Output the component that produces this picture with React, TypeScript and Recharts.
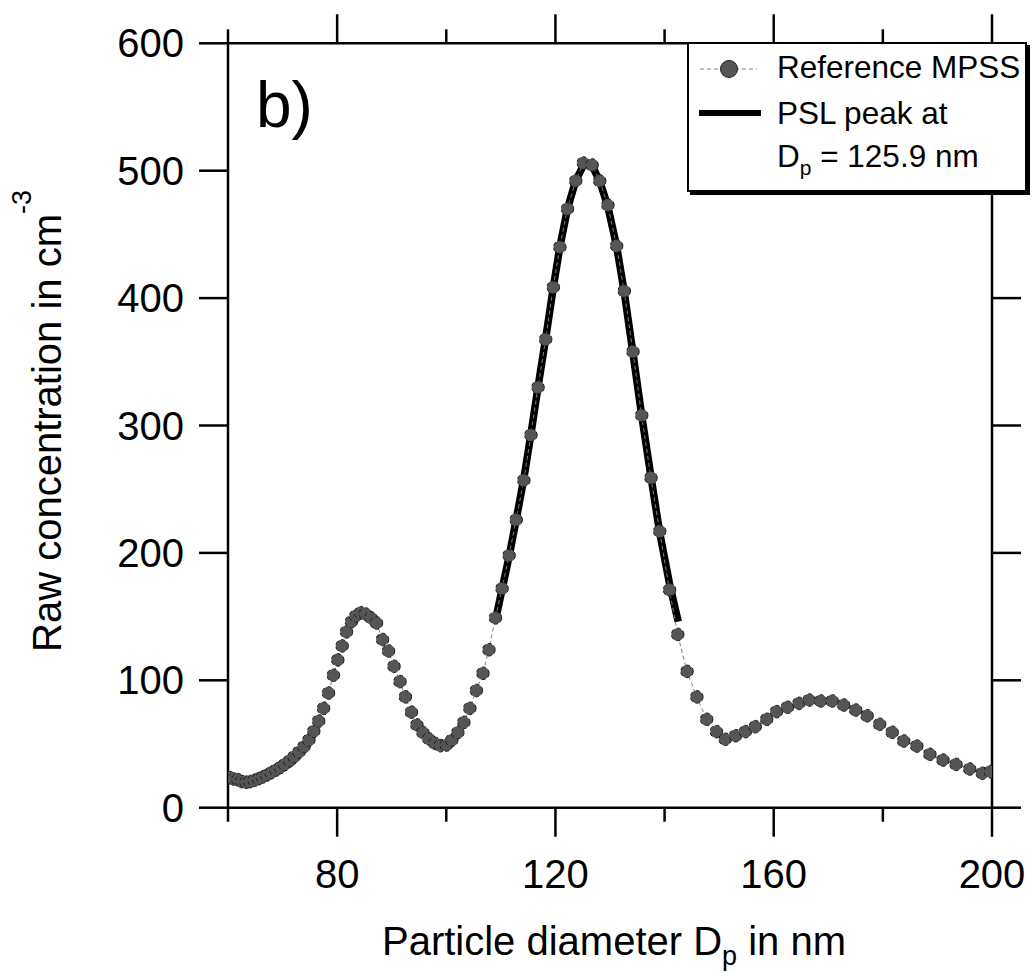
import React from 'react';
import { ComposedChart, Line, XAxis, YAxis, Legend } from 'recharts';

// Reference MPSS: particle diameter (nm) and raw concentration (cm^-3)
const diameterNm = [
  60.3, 61.0, 61.8, 62.5, 63.3, 64.0, 64.8, 65.6, 66.3, 67.1,
  67.9, 68.8, 69.6, 70.4, 71.3, 72.1, 73.0, 73.9, 74.8, 75.7,
  76.6, 77.5, 78.4, 79.3, 80.1, 80.9, 81.7, 82.6, 83.4, 84.3,
  85.2, 86.2, 87.2, 88.3, 89.4, 90.4, 91.5, 92.5, 93.6, 94.6,
  95.7, 96.8, 97.9, 98.9, 100.0, 101.0, 102.1, 103.2, 104.3, 105.5,
  106.7, 107.8, 109.0, 110.2, 111.5, 112.8, 114.2, 115.5, 116.8, 118.2,
  119.6, 120.8, 122.2, 123.7, 125.1, 126.7, 128.1, 129.6, 131.2, 132.6,
  134.2, 135.8, 137.5, 139.1, 140.9, 142.4, 144.1, 145.9, 147.7, 149.5,
  151.1, 153.0, 154.8, 156.6, 158.7, 160.5, 162.5, 164.6, 166.5, 168.6,
  170.7, 172.8, 175.0, 177.1, 179.4, 181.7, 183.8, 186.2, 188.6, 191.0,
  193.4, 195.9, 198.2, 199.7,
];
const rawConc = [
  23.5, 22.5, 22.0, 20.5, 20.0, 20.5, 21.5, 22.8, 24.1, 25.7,
  27.5, 29.6, 31.7, 34.0, 36.9, 40.0, 43.7, 47.9, 53.1, 60.0,
  68.0, 78.0, 90.0, 104.0, 116.0, 127.0, 138.0, 146.0, 150.5, 153.0,
  152.0, 149.0, 145.0, 132.0, 123.0, 111.0, 99.0, 87.0, 75.0, 65.0,
  59.0, 54.0, 50.5, 48.7, 49.2, 53.0, 59.0, 67.0, 78.0, 92.0,
  105.5, 124.0, 149.0, 172.0, 198.0, 226.0, 257.0, 292.5, 330.0, 367.6,
  408.5, 440.0, 470.0, 492.0, 506.0, 504.5, 492.0, 473.0, 441.0, 405.6,
  358.0, 308.0, 259.0, 217.0, 171.0, 136.0, 107.0, 87.0, 69.4, 59.7,
  53.7, 56.5, 59.7, 63.6, 69.4, 75.4, 78.8, 81.9, 84.5, 83.8,
  83.8, 80.6, 76.7, 72.2, 65.5, 59.2, 52.4, 48.4, 41.9, 37.4,
  34.0, 30.4, 27.0, 28.3,
];

// PSL peak fit (thick black line)
const fitDiameterNm = [
  109.0, 110.2, 111.5, 112.8, 114.2, 115.5, 116.8, 118.2, 119.6, 120.8,
  122.2, 123.7, 125.1, 125.9, 126.7, 128.1, 129.6, 131.2, 132.6, 134.2,
  135.8, 137.5, 139.1, 140.9, 142.5,
];
const fitConc = [
  147, 171, 197, 226, 258, 293, 330, 368, 408, 440,
  470, 492, 504, 506, 504, 492, 472, 441, 405, 357,
  308, 260, 216, 176, 146,
];

const xTicks = [60, 80, 100, 120, 140, 160, 180, 200];
const xLabeledTicks = [80, 120, 160, 200];
const yTicks = [0, 100, 200, 300, 400, 500, 600];

const FONT = '"Liberation Sans", Arial, Helvetica, sans-serif';
const AXIS_W = 2.5;

const mpssData = diameterNm.map((d, i) => ({ d, c: rawConc[i] }));
const fitData = fitDiameterNm.map((d, i) => ({ d, f: fitConc[i] }));

const BottomTick = (p: any) => {
  const { x, y, payload } = p;
  const v = payload.value;
  const major = xLabeledTicks.includes(v);
  return (
    <g>
      <line x1={x} x2={x} y1={y} y2={y + (major ? 29 : 14)} stroke="#000" strokeWidth={AXIS_W} />
      {major ? (
        <text x={x} y={y + 80} textAnchor="middle" fontSize={40} fontFamily={FONT} fill="#000">
          {v}
        </text>
      ) : null}
    </g>
  );
};

const TopTick = (p: any) => {
  const { x, y, payload } = p;
  const major = xLabeledTicks.includes(payload.value);
  return <line x1={x} x2={x} y1={y} y2={y - (major ? 29 : 14)} stroke="#000" strokeWidth={AXIS_W} />;
};

const LeftTick = (p: any) => {
  const { x, y, payload } = p;
  return (
    <g>
      <line x1={x - 29} x2={x} y1={y} y2={y} stroke="#000" strokeWidth={AXIS_W} />
      <text x={x - 44} y={y + 14} textAnchor="end" fontSize={40} fontFamily={FONT} fill="#000">
        {payload.value}
      </text>
    </g>
  );
};

const RightTick = (p: any) => {
  const { x, y } = p;
  return <line x1={x} x2={x + 29} y1={y} y2={y} stroke="#000" strokeWidth={AXIS_W} />;
};

const XTitle = () => (
  <text x={614} y={955} textAnchor="middle" fontSize={40} fontFamily={FONT} fill="#000">
    Particle diameter D
    <tspan fontSize={27} dy={10}>p</tspan>
    <tspan dy={-10}> in nm</tspan>
  </text>
);

const YTitle = () => (
  <text
    transform="translate(61,421) rotate(-90)"
    x={0}
    y={0}
    textAnchor="middle"
    fontSize={40}
    fontFamily={FONT}
    fill="#000"
  >
    Raw concentration in cm
    <tspan fontSize={27} dy={-30}>-3</tspan>
  </text>
);

const PanelTag = () => (
  <text x={256} y={127} fontSize={64} fontFamily={FONT} fill="#000">
    b)
  </text>
);

const renderLegend = () => (
  <div
    style={{
      width: 340,
      height: 150,
      boxSizing: 'border-box',
      border: '2px solid #000',
      background: '#fff',
      boxShadow: '3px 3px 0 #000',
    }}
  >
    <svg width={336} height={146} style={{ display: 'block' }}>
      <line x1={11} x2={68} y1={25} y2={25} stroke="#808080" strokeWidth={1} strokeDasharray="4 3" />
      <circle cx={40} cy={25} r={8.5} fill="#555555" stroke="#1f1f1f" strokeWidth={1} />
      <text x={88} y={34} fontSize={31.5} fontFamily={FONT} fill="#000">
        Reference MPSS
      </text>
      <line x1={10} x2={72} y1={69} y2={69} stroke="#000" strokeWidth={6} />
      <text x={88} y={80} fontSize={31.5} fontFamily={FONT} fill="#000">
        PSL peak at
      </text>
      <text x={88} y={123} fontSize={31.5} fontFamily={FONT} fill="#000">
        D<tspan fontSize={21} dy={8}>p</tspan>
        <tspan dy={-8}> = 125.9 nm</tspan>
      </text>
    </svg>
  </div>
);

export default function App() {
  return (
    <div style={{ position: 'fixed', left: 0, top: 0, background: '#fff' }}>
      <ComposedChart
        width={1032}
        height={972}
        data={mpssData}
        margin={{ top: 23.3, right: 20, bottom: 124.3, left: 188 }}
      >
        <XAxis
          xAxisId={0}
          dataKey="d"
          type="number"
          domain={[60, 200]}
          allowDataOverflow
          ticks={xTicks}
          interval={0}
          height={40}
          tickSize={0}
          tickMargin={0}
          tickLine={false}
          axisLine={{ stroke: '#000', strokeWidth: AXIS_W }}
          tick={BottomTick}
          label={{ content: () => <XTitle /> }}
        />
        <XAxis
          xAxisId="top"
          orientation="top"
          dataKey="d"
          type="number"
          domain={[60, 200]}
          allowDataOverflow
          ticks={xTicks}
          interval={0}
          height={20}
          tickSize={0}
          tickMargin={0}
          tickLine={false}
          axisLine={{ stroke: '#000', strokeWidth: AXIS_W }}
          tick={TopTick}
          label={{ content: () => <PanelTag /> }}
        />
        <YAxis
          yAxisId={0}
          type="number"
          domain={[0, 600]}
          allowDataOverflow
          ticks={yTicks}
          interval={0}
          width={40}
          tickSize={0}
          tickMargin={0}
          tickLine={false}
          axisLine={{ stroke: '#000', strokeWidth: AXIS_W }}
          tick={LeftTick}
          label={{ content: () => <YTitle /> }}
        />
        <YAxis
          yAxisId="right"
          orientation="right"
          type="number"
          domain={[0, 600]}
          allowDataOverflow
          ticks={yTicks}
          interval={0}
          width={20}
          tickSize={0}
          tickMargin={0}
          tickLine={false}
          axisLine={{ stroke: '#000', strokeWidth: AXIS_W }}
          tick={RightTick}
        />
        {/* invisible series binding the mirrored axes to the same data */}
        <Line
          dataKey="c"
          xAxisId="top"
          yAxisId="right"
          stroke="none"
          dot={false}
          activeDot={false}
          isAnimationActive={false}
          legendType="none"
        />
        <Line
          data={fitData}
          dataKey="f"
          xAxisId={0}
          yAxisId={0}
          type="linear"
          stroke="#000"
          strokeWidth={7.5}
          strokeLinejoin="round"
          dot={false}
          activeDot={false}
          isAnimationActive={false}
          legendType="none"
        />
        <Line
          dataKey="c"
          xAxisId={0}
          yAxisId={0}
          type="linear"
          stroke="#808080"
          strokeWidth={1}
          strokeDasharray="4 3"
          dot={{ r: 6.3, fill: '#555555', stroke: '#1a1a1a', strokeWidth: 1 }}
          activeDot={false}
          isAnimationActive={false}
        />
        <Legend
          layout="horizontal"
          verticalAlign="middle"
          align="center"
          content={renderLegend}
          wrapperStyle={{ position: 'absolute', left: 687, top: 42, width: 345, height: 155 }}
        />
      </ComposedChart>
    </div>
  );
}
